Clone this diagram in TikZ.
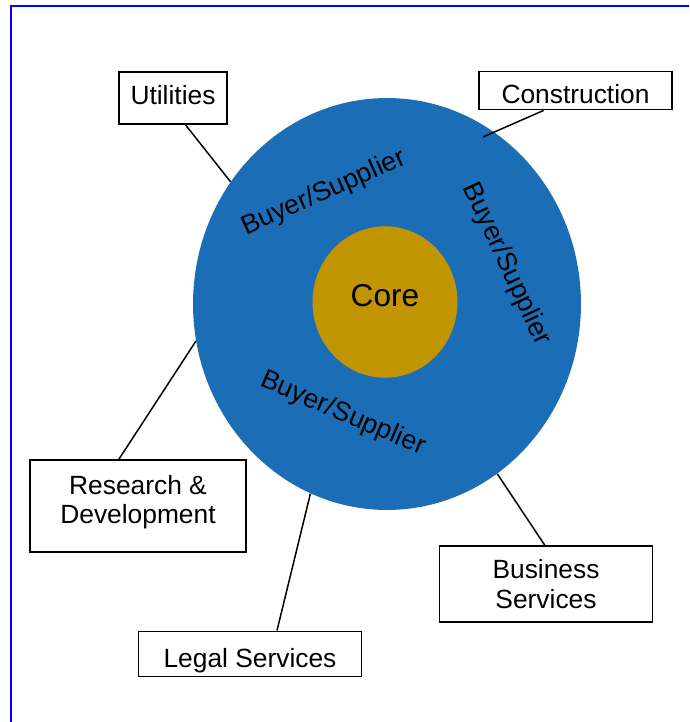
\documentclass[tikz,border=0pt]{standalone}
\usepackage{fontspec}
\setmainfont{Liberation Sans}
\usetikzlibrary{shapes.geometric}

\definecolor{ringblue}{RGB}{27,110,181}
\definecolor{coregold}{RGB}{193,149,0}

\tikzset{
  sector/.style={draw, line width=1.1pt, fill=white, inner sep=0pt, align=center,
    font=\fontsize{15}{17}\selectfont},
  role/.style={inner sep=0pt, font=\fontsize{15.3}{18}\selectfont},
  link/.style={line width=0.85pt}
}

\begin{document}
\begin{tikzpicture}[x=0.02cm, y=-0.02cm]
\useasboundingbox (0,0) rectangle (689,722);
\draw[blue, line width=1.2pt] (11,722) -- (11,6) -- (689,6);

\node[ellipse, fill=ringblue, inner sep=0pt, minimum width=7.76cm, minimum height=8.24cm] (ring) at (387,304) {};
\node[ellipse, fill=coregold, inner sep=0pt, minimum width=2.9cm, minimum height=3.03cm] (core) at (385,302) {};
\node[inner sep=0pt, font=\fontsize{18}{20}\selectfont] (coretext) at (385,296) {Core};

\node[role, rotate=24] (bs1) at (324,193) {Buyer/Supplier};
\node[role, rotate=-65] (bs2) at (506,264) {Buyer/Supplier};
\node[role, rotate=-23] (bs3) at (343,414) {Buyer/Supplier};

\node[sector, minimum width=2.16cm, minimum height=1.04cm, text height=10.5pt, text depth=2.8pt] (util) at (173,98) {Utilities};
\node[sector, minimum width=3.86cm, minimum height=0.76cm, text height=15pt, text depth=0pt] (cons) at (575.5,90.5) {Construction};
\node[sector, minimum width=4.32cm, minimum height=1.84cm, text depth=7.5pt] (rd) at (138,506) {Research \&\\Development};
\node[sector, minimum width=4.46cm, minimum height=0.9cm, text height=15pt, text depth=0pt] (legal) at (250,654) {Legal Services};
\node[sector, minimum width=4.26cm, minimum height=1.52cm] (bus) at (546,584) {Business\\Services};

\coordinate (consend) at (483,137);
\draw[link] (util.-65) -- (ring.142);
\draw[link] (cons.212) -- (consend);
\draw[link] (rd.112) -- (ring.191);
\draw[link] (legal.41) -- (ring.248);
\draw[link] (bus.92) -- (ring.303);
\end{tikzpicture}
\end{document}
